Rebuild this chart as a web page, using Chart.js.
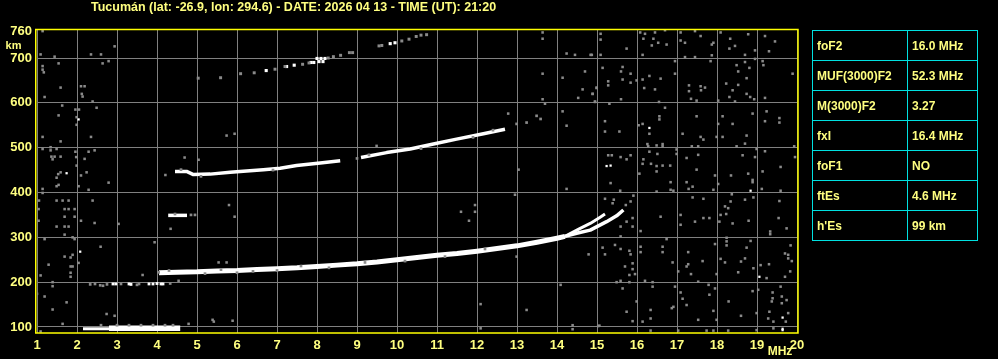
<!DOCTYPE html>
<html>
<head>
<meta charset="utf-8">
<script src="https://cdn.jsdelivr.net/npm/chart.js@4/dist/chart.umd.min.js"></script>
<style>
html,body{margin:0;padding:0;background:#000;width:998px;height:359px;overflow:hidden}
#wrap{position:relative;width:998px;height:359px;background:#000}
#c{position:absolute;left:0;top:0}
#title{position:absolute;left:91px;top:0px;white-space:nowrap;color:#ffff80;font:bold 12.5px "Liberation Sans",Arial,sans-serif;line-height:14px}
#tbl{position:absolute;left:812px;top:30px;border-collapse:collapse;font:bold 12px "Liberation Sans",Arial,sans-serif;color:#ffff80}
#tbl td{border:1px solid #00e0e0;height:29px;padding:0 0 0 4px;vertical-align:middle;white-space:nowrap}
#tbl td.k{width:90px}
#tbl td.v{width:65px}
</style>
</head>
<body>
<div id="wrap">
<canvas id="c" width="998" height="359"></canvas>
<div id="title"></div>
<table id="tbl"></table>
</div>
<script>
// ---------- text ----------
const titleText = "Tucumán (lat: -26.9, lon: 294.6) - DATE: 2026 04 13 - TIME (UT): 21:20";
const paramNames  = ["foF2", "MUF(3000)F2", "M(3000)F2", "fxI", "foF1", "ftEs", "h'Es"];
const paramValues = ["16.0 MHz", "52.3 MHz", "3.27", "16.4 MHz", "NO", "4.6 MHz", "99 km"];

// ---------- axes ----------
const freqTicks   = [1,2,3,4,5,6,7,8,9,10,11,12,13,14,15,16,17,18,19,20];
const heightTicks = [100,200,300,400,500,600,700,760];
const freqMin = 1, freqMax = 20;
const heightMin = 86.6, heightMax = 764.7;

// ---------- traces (frequency MHz, virtual height km) ----------
const esThick = [[2.8,97],[3.4,97],[4.0,97],[4.58,97]];
const esThin  = [[2.15,96],[2.8,96]];
const esSecond = [[4.28,349],[4.75,349]];
const fTrace = [[4.05,221],[4.5,222],[5,223],[5.5,225],[6,226],[6.5,228],[7,230],[7.5,232],[8,235],[8.5,238],[9,241],[9.5,245],[10,250],[10.5,255],[11,260],[11.5,264],[12,269],[12.5,275],[13,281],[13.5,289],[14,298],[14.2,302]];
const fUpper = [[14.2,302],[14.58,320],[14.83,331],[15.08,345],[15.2,352]];
const fLower = [[14.2,302],[14.49,309],[14.83,316],[15.24,335],[15.49,348],[15.66,361]];
const f2TraceA = [[4.45,447],[4.74,447],[4.91,440],[5.33,441],[5.83,445],[6.24,448],[6.66,451],[7.08,454],[7.49,460],[8.08,466],[8.58,471]];
const f2TraceB = [[9.1,478],[9.74,489],[10.33,497],[10.91,508],[11.49,519],[12.16,531],[12.7,541]];

const f3White = [[6.73,672],[7.24,681],[7.43,684],[7.85,690],[7.92,690],[8.0,699],[8.1,699],[8.2,699],[8.05,692],[8.15,692],[9.83,732],[9.95,734]];
const f3Gray  = [[5.03,655],[5.59,656],[6.09,665],[6.43,667],[6.95,675],[7.2,681],[7.64,686],[7.8,689],[8.28,700],[8.41,703],[8.59,706],[8.81,712],[8.89,712],[9.55,727],[9.62,728],[10.12,738],[10.3,742],[10.48,748],[10.6,751],[10.74,752]];

const e200White = [[2.9,196],[2.97,196],[3.3,196],[3.35,195],[3.8,196],[3.9,196],[4.0,197],[4.1,196],[4.15,196]];
const e200Gray  = [[2.33,195],[2.45,196],[2.58,193],[2.65,192],[2.75,195],[3.1,196],[3.5,194],[3.55,196],[4.33,197],[4.04,222]];
const traceGray = [[2.6,104],[3.0,104],[3.3,104],[3.6,104],[3.9,104],[4.2,104],[4.4,104],[4.85,350],[4.95,350],[4.45,352],[12.99,553],[13.24,556],[13.49,571],[13.59,564],[9.0,476],[5.2,219],[6.0,221],[7.0,226],[8.3,232],[4.3,226],[5.6,228],[6.4,224],[7.6,236],[9.2,244],[10.2,247],[11.2,257],[12.2,274],[4.6,451],[5.1,436],[6.9,450],[9.3,484],[10.6,498],[11.9,523],[12.4,539]];

// ---------- scattered echoes ----------
const specksWhite = [[1.74,443],[2.04,563],[2.08,268],[16.31,544],[15.24,459],[15.34,460],[18.84,404],[19.06,212],[19.64,121],[19.64,93],[19.64,96]];
const noiseLeft = [[1.14,760],[1.09,708],[1.44,703],[2.35,708],[2.6,708],[2.94,726],[1.14,682],[1.54,688],[2.64,688],[2.79,693],[1.14,674],[1.17,668],[1.59,634],[2.1,637],[2.19,637],[2.12,620],[2.14,614],[1.19,613],[1.63,594],[2.39,603],[2.49,589],[1.96,585],[2.05,585],[1.54,572],[1.99,568],[1.99,551],[1.14,524],[1.59,514],[2.35,524],[1.34,501],[1.34,494],[1.14,497],[1.49,497],[1.96,491],[2.29,491],[2.44,494],[1.36,480],[1.44,480],[1.59,480],[1.39,474],[1.98,479],[2.19,475],[1.99,460],[1.59,445],[1.53,441],[2.24,445],[2.1,438],[1.49,433],[1.49,414],[1.54,417],[2.04,414],[2.29,406],[2.79,422],[1.14,408],[1.14,399],[1.05,382],[1.49,382],[1.64,382],[1.79,382],[2.39,382],[1.04,363],[1.69,363],[1.79,363],[1.94,363],[1.69,346],[1.94,346],[1.04,337],[2.1,337],[2.44,332],[1.49,324],[1.69,324],[1.79,324],[3.04,330],[1.69,306],[1.89,300],[1.94,296],[1.19,296],[3.94,289],[2.59,279],[1.89,261],[1.69,257],[1.84,255],[2.04,243],[1.29,239],[1.84,235],[1.89,235],[1.09,215],[1.84,221],[1.84,212],[3.64,216],[1.39,200],[1.39,191],[1.0,174],[1.19,168],[1.74,155],[1.39,139],[2.74,129],[2.94,125],[1.64,107],[1.09,90]];
const noiseMid = [[4.21,439],[5.74,527],[5.94,531],[4.69,478],[5.04,473],[5.8,372],[5.94,346],[4.34,319],[5.54,244],[5.74,244],[4.54,203],[5.39,116],[5.89,114],[4.79,107],[5.42,112],[12.09,151],[12.09,97],[13.24,138],[14.09,194],[14.39,104],[14.39,95],[15.03,102],[12.78,576],[14.14,581],[14.24,549],[9.49,504],[13.04,451],[12.95,395],[14.24,408],[11.6,357],[11.95,372],[11.95,357],[11.8,337],[12.99,257],[14.79,262],[13.64,757],[13.64,743],[13.64,665],[13.64,608],[14.24,710],[14.45,707],[14.84,707],[14.7,670],[14.14,656],[14.64,630],[14.89,620],[14.99,634],[14.53,611],[14.95,603],[13.7,598]];
const noiseRightHigh = [[15.09,754],[15.09,741],[16.08,757],[16.2,754],[16.45,757],[16.7,762],[17.09,757],[17.45,760],[18.09,757],[18.78,753],[19.2,749],[19.45,737],[16.16,743],[16.41,743],[16.53,734],[16.37,728],[16.74,730],[17.09,739],[17.2,734],[17.59,749],[17.87,730],[17.91,734],[18.33,743],[18.45,727],[18.31,721],[18.95,717],[19.3,715],[15.74,721],[14.87,707],[15.09,707],[16.14,707],[17.2,702],[17.45,702],[17.87,706],[18.7,707],[18.95,698],[19.14,693],[16.95,693],[17.84,693],[15.14,678],[15.64,680],[15.6,670],[15.84,665],[18.49,684],[18.7,691],[18.81,678],[19.16,684],[18.53,670],[16.95,665],[16.31,660],[16.59,654],[16.14,652],[15.99,650],[15.28,648],[15.28,639],[15.64,652],[15.84,645],[17.3,639],[17.59,637],[17.7,634],[18.23,643],[18.53,640],[18.74,655],[19.89,665],[14.99,633],[14.89,620],[14.95,602],[16.18,633],[16.45,630],[17.3,626],[17.35,609],[17.49,605],[17.6,628],[18.39,628],[18.31,613],[18.74,620],[18.83,613],[18.93,608],[19.2,611],[15.6,608],[16.55,602],[18.03,605],[18.45,603],[16.7,589],[15.31,598],[16.56,570],[16.56,563],[16.04,550],[16.14,553],[16.31,531],[15.2,559],[15.2,536],[15.56,536],[17.14,531],[17.49,570],[17.59,524],[17.66,518],[18.14,570],[18.03,553],[18.39,553],[18.89,576],[19.24,581],[19.2,559],[19.56,566],[19.56,556],[18.14,524],[17.99,524],[18.74,527],[18.7,509],[18.49,503],[18.99,497],[19.2,492],[19.93,503],[16.26,508],[16.28,503],[16.49,505],[16.64,508],[16.64,503],[17.37,503],[17.53,503],[16.99,496],[16.99,486],[17.24,477],[17.53,484],[16.31,491],[16.51,486],[16.16,474],[16.35,464],[16.49,459],[16.64,460],[16.83,460],[16.14,464],[16.49,447],[16.06,442],[15.28,483],[15.37,483],[15.59,479],[15.74,474],[15.84,483],[17.49,451],[17.95,438],[18.35,438],[18.64,483],[18.95,479],[18.78,442],[19.14,447],[19.59,457],[19.95,479]];
const noiseRightLow = [[15.34,421],[16.84,423],[16.84,406],[16.91,404],[17.24,423],[17.39,413],[17.29,408],[18.03,419],[17.91,406],[18.89,428],[18.89,423],[19.12,408],[19.59,404],[16.49,402],[15.58,404],[18.37,396],[18.34,380],[18.7,384],[18.91,389],[19.56,381],[15.91,393],[15.2,386],[17.39,389],[17.66,386],[15.42,384],[15.39,376],[15.84,380],[15.72,372],[18.2,369],[18.28,365],[18.09,350],[18.23,352],[17.09,350],[16.59,346],[17.66,343],[17.81,343],[17.45,335],[18.06,335],[18.39,331],[18.79,337],[19.54,343],[15.89,343],[15.89,324],[15.74,335],[17.09,328],[16.09,314],[15.59,324],[19.33,313],[19.33,307],[19.74,320],[15.59,302],[16.74,296],[18.24,299],[18.24,291],[18.24,282],[18.84,292],[15.14,277],[15.2,262],[15.45,283],[15.59,274],[15.81,270],[15.84,262],[16.09,279],[16.09,267],[16.64,279],[16.64,267],[17.28,267],[17.95,285],[18.74,277],[19.7,264],[19.78,261],[19.78,253],[19.84,282],[15.7,235],[15.89,242],[15.89,229],[15.95,218],[15.81,216],[16.89,244],[17.03,224],[17.24,235],[17.28,240],[17.35,218],[17.64,247],[18.09,252],[18.2,244],[17.99,218],[18.53,222],[18.6,246],[18.7,253],[18.91,231],[19.09,238],[19.3,240],[19.24,209],[19.7,212],[19.83,224],[19.87,247],[15.49,200],[15.59,203],[15.81,200],[16.2,203],[16.39,200],[16.39,190],[17.53,201],[15.64,186],[16.95,190],[17.09,177],[17.14,163],[17.24,149],[17.79,194],[17.95,186],[17.81,172],[18.29,157],[18.89,180],[19.03,183],[19.39,177],[19.39,164],[19.37,157],[19.59,190],[19.62,168],[19.74,160],[19.62,153],[15.99,157],[15.74,134],[16.34,138],[16.14,112],[16.34,119],[16.87,142],[16.91,145],[15.89,113],[17.53,116],[17.91,136],[17.99,116],[18.6,125],[18.99,131],[19.31,134],[19.28,119],[19.41,112],[19.41,97],[19.78,131],[19.72,112],[15.06,103],[16.34,92],[17.03,92],[17.74,92],[17.91,92],[18.28,92],[18.99,93]];

// ---------- page text ----------
document.getElementById('title').textContent = titleText;
const tbl = document.getElementById('tbl');
paramNames.forEach((n, i) => {
  const tr = document.createElement('tr');
  const a = document.createElement('td'); a.className = 'k'; a.textContent = n;
  const b = document.createElement('td'); b.className = 'v'; b.textContent = paramValues[i];
  tr.appendChild(a); tr.appendChild(b); tbl.appendChild(tr);
});

// ---------- chart ----------
const XY = arr => arr.map(p => ({x: p[0], y: p[1]}));
const GRAY = '#808080', DOT = '#8a8a8a', WHITE = '#ffffff', YELLOW = '#ffff00', TXT = '#ffff80';
const FONT = 'Liberation Sans, Arial, sans-serif';

function dots(arr, color, r) {
  return { type: 'scatter', data: XY(arr), pointStyle: 'rect', pointRadius: r, pointBorderWidth: 0,
           backgroundColor: color, borderColor: color };
}
function band(arr, w) {
  return { type: 'line', data: XY(arr), borderColor: WHITE, borderWidth: w, pointRadius: 0,
           fill: false, tension: 0, borderCapStyle: 'butt', borderJoinStyle: 'round' };
}

const frame = {
  id: 'frame',
  afterDraw(chart) {
    const {ctx, chartArea: a} = chart;
    ctx.save();
    ctx.strokeStyle = YELLOW;
    ctx.lineWidth = 1.5;
    ctx.strokeRect(a.left - 1.25, a.top + 0.5, (a.right + 1) - (a.left - 1.25), a.bottom - a.top - 0.5);
    ctx.fillStyle = TXT;
    ctx.textAlign = 'center';
    ctx.textBaseline = 'middle';
    ctx.font = 'bold 11px ' + FONT;
    ctx.fillText('km', 13.5, 45.5);
    ctx.font = 'bold 12px ' + FONT;
    ctx.fillText('MHz', 780, 351.5);
    ctx.restore();
  }
};

new Chart(document.getElementById('c'), {
  type: 'scatter',
  data: {
    datasets: [
      dots(noiseLeft, DOT, 1.8),
      dots(noiseMid, DOT, 1.8),
      dots(noiseRightHigh, DOT, 1.8),
      dots(noiseRightLow, DOT, 1.8),
      dots(traceGray, DOT, 1.9),
      dots(f3Gray, DOT, 2.1),
      dots(e200Gray, DOT, 1.9),
      dots(specksWhite, WHITE, 1.6),
      dots(f3White, WHITE, 2.2),
      dots(e200White, WHITE, 2.0),
      band(esThin, 3),
      band(esThick, 5.5),
      band(esSecond, 3.5),
      band(fTrace, 5),
      band(fUpper, 3),
      band(fLower, 3.5),
      band(f2TraceA, 3.5),
      band(f2TraceB, 3.5)
    ]
  },
  options: {
    responsive: false,
    animation: false,
    events: [],
    layout: { padding: { top: 29, right: 201, left: 0, bottom: 0 } },
    plugins: { legend: { display: false }, tooltip: { enabled: false }, title: { display: false } },
    scales: {
      x: {
        type: 'linear', position: 'bottom', min: freqMin, max: freqMax,
        afterFit: s => { s.height = 26; },
        afterBuildTicks: s => { s.ticks = freqTicks.map(v => ({value: v})); },
        grid: { color: GRAY, lineWidth: 1, drawTicks: false },
        border: { display: false },
        ticks: { color: TXT, font: { family: FONT, size: 13, weight: 'bold' }, padding: 5,
                 maxRotation: 0, autoSkip: false, callback: v => String(v) }
      },
      y: {
        type: 'linear', position: 'left', min: heightMin, max: heightMax,
        afterFit: s => { s.width = 37; },
        afterBuildTicks: s => { s.ticks = heightTicks.map(v => ({value: v})); },
        grid: { color: c => (c.tick && c.tick.value === 760) ? 'rgba(0,0,0,0)' : GRAY, lineWidth: 1, drawTicks: false },
        border: { display: false },
        ticks: { color: TXT, font: { family: FONT, size: 13, weight: 'bold' }, padding: 5,
                 autoSkip: false, callback: v => String(v) }
      }
    }
  },
  plugins: [frame]
});
</script>
</body>
</html>
